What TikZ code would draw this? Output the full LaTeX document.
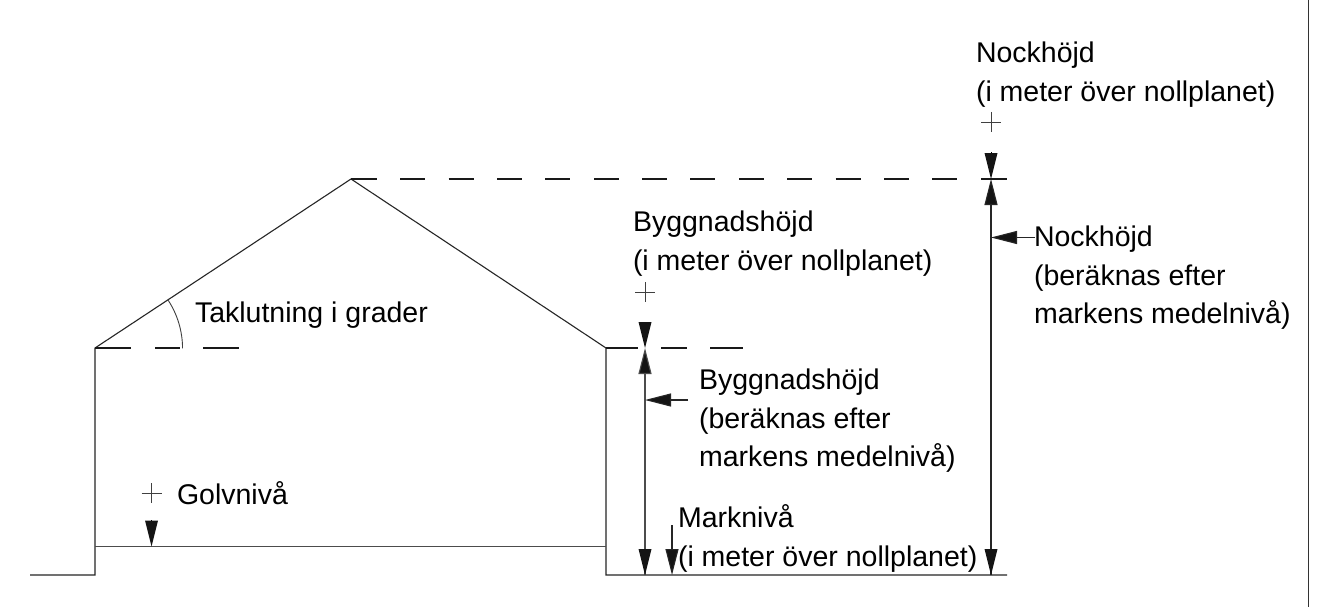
\documentclass[tikz,border=0pt]{standalone}
\usepackage{fontspec}
\setmainfont{Liberation Sans}
\usetikzlibrary{arrows.meta}
\tikzset{
  lbl/.style={inner sep=0pt,outer sep=0pt,anchor=north west,align=left,font=\fontsize{28.5}{38.6}\selectfont,text=black},
  ln/.style={line width=1.1pt,draw=black!85},
  thin line/.style={line width=0.9pt,draw=black!75},
  dim/.style={line width=1.1pt,draw=black!70},
  tip/.style={-{Triangle[length=26pt,width=13pt,fill=black!92]}},
  dsh/.style={line width=1.1pt,draw=black!90},
  plusmark/.style={line width=0.7pt,draw=black!75}
}
\begin{document}
\begin{tikzpicture}[x=1pt,y=-1pt]
\useasboundingbox[fill=white] (0,0) rectangle (1338,607);
% coordinates
\coordinate (g0) at (30,575);
\coordinate (wl0) at (95,575);
\coordinate (wl1) at (95,348);
\coordinate (ridge) at (351,179);
\coordinate (wr1) at (606,348);
\coordinate (wr0) at (606,575);
\coordinate (g1) at (1007,575);
\coordinate (fr) at (606,546.5);
\coordinate (fl) at (95,546.5);
% building
\draw[ln] (g0) -- (wl0) -- (wl1) -- (ridge) -- (wr1) -- (wr0) -- (g1);
\draw[ln,draw=black!70] (fl) -- (fr);
\draw[line width=1pt,draw=black!80] (1308.5,0) -- (1308.5,607);
% level extensions
\draw[dsh] (wl1) -- (131,348);
\draw[dsh] (155,348) -- (180,348);
\draw[dsh] (203,348) -- (239,348);
\draw[dsh] (wr1) -- (638,348);
\draw[dsh] (661,348) -- (687,348);
\draw[dsh] (710,348) -- (743,348);
\draw[dsh] (ridge) -- (377,179);
\foreach \a in {400,448.5,497,545,594,642,690,739,787,835.5,884,932}{
  \draw[dsh] (\a,179) -- (\a+25,179);
}
\draw[dsh] (981,179) -- (1007,179);
% roof angle
\draw[thin line] (168,300) arc[start angle=-33.4,end angle=0,radius=88];
% plus marks
\foreach \x/\y in {991/122,645/292,151.5/493}{
  \draw[plusmark] (\x-10,\y) -- (\x+10,\y) (\x,\y-10) -- (\x,\y+10);
}
% Floor arrow
\coordinate (fa0) at (151.5,521);
\coordinate (fa1) at (151.5,546.5);
\draw[tip,line width=0pt] (fa0) -- (fa1);
% building height dim
\coordinate (bt0) at (645,322);
\coordinate (bm) at (645,348);
\coordinate (bb) at (645,575);
\draw[tip,line width=0pt] (bt0) -- (bm);
\draw[dim,tip] (bb) -- (bm);
\draw[tip,line width=0pt] (645,549) -- (bb);
\coordinate (bp) at (645,400);
\coordinate (bp0) at (688,400);
\draw[ln,tip] (bp0) -- (bp);
% ground arrow
\coordinate (ga0) at (672,525);
\coordinate (ga1) at (672,575);
\draw[ln,tip] (ga0) -- (ga1);
% ridge dim
\coordinate (rt0) at (991,152);
\coordinate (rm) at (991,179);
\coordinate (rb) at (991,575);
\draw[tip,line width=0pt] (rt0) -- (rm);
\draw[ln,tip] (rb) -- (rm);
\draw[tip,line width=0pt] (991,549) -- (rb);
\coordinate (rp) at (991,237.5);
\coordinate (rp0) at (1035,237.5);
\draw[ln,tip] (rp0) -- (rp);
% labels
\node[lbl] (t1) at (976,42) {Nockhöjd\\(i meter över nollplanet)};
\node[lbl] (t2) at (1034,226) {Nockhöjd\\(beräknas efter\\markens medelnivå)};
\node[lbl] (t3) at (633,211) {Byggnadshöjd\\(i meter över nollplanet)};
\node[lbl] (t4) at (699,369) {Byggnadshöjd\\(beräknas efter\\markens medelnivå)};
\node[lbl] (t5) at (678,505) {Marknivå\\(i meter över nollplanet)};
\node[lbl] (t6) at (195,302) {Taklutning i grader};
\node[lbl] (t7) at (177,482) {Golvnivå};
\end{tikzpicture}
\end{document}
